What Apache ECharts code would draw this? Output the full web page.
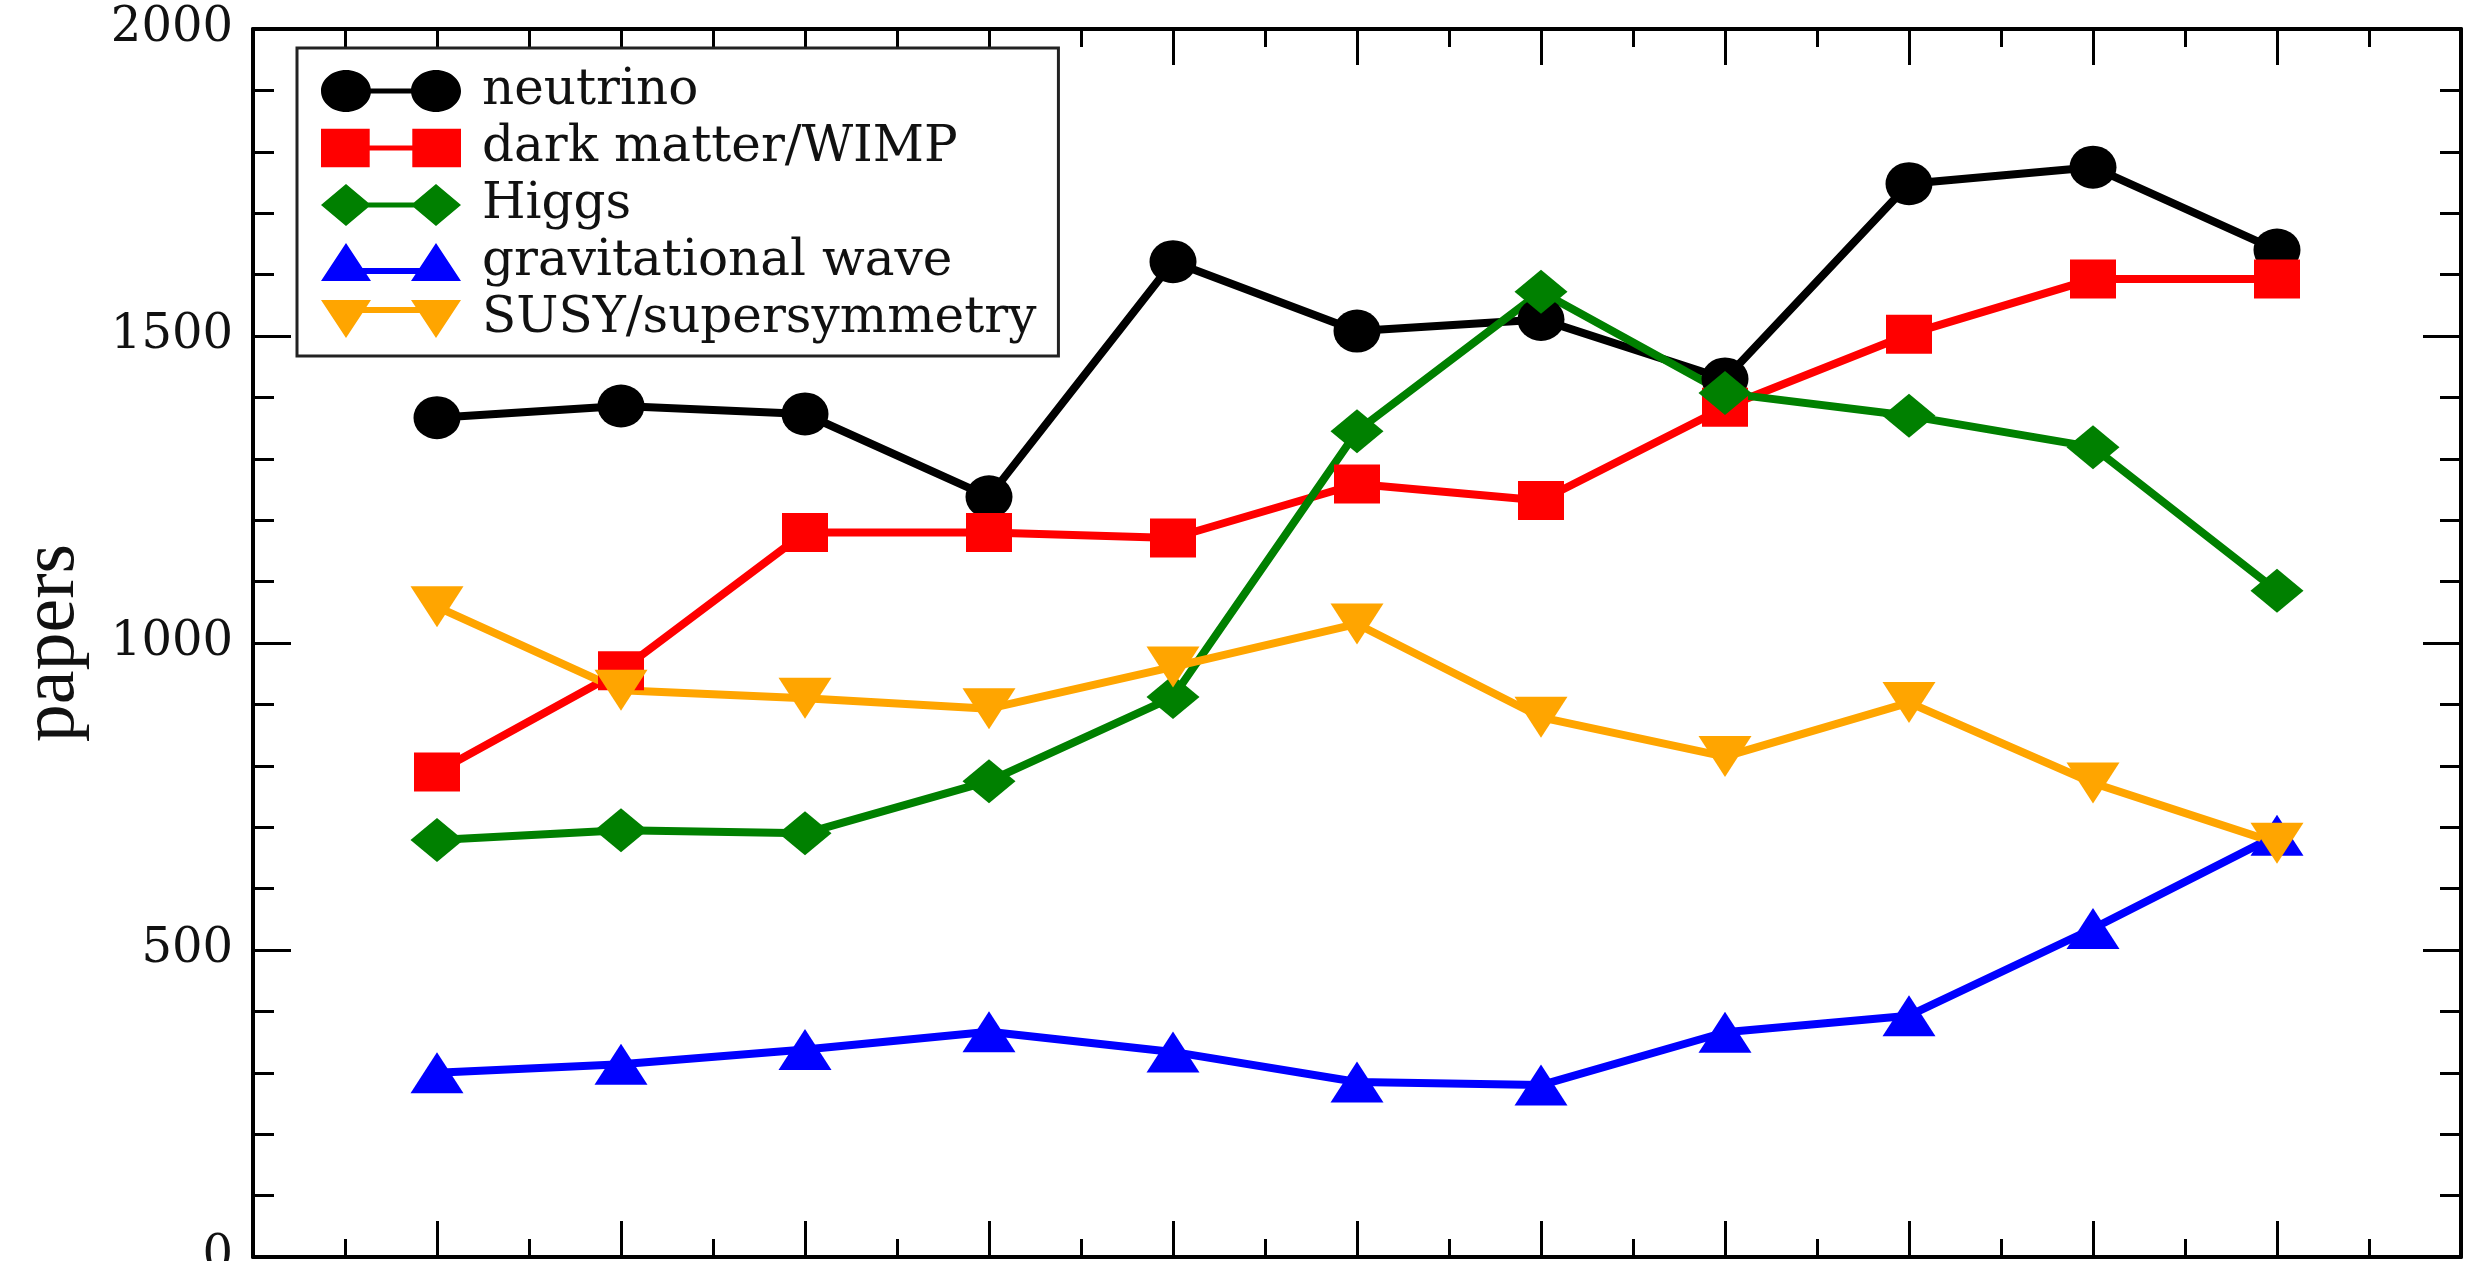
<!DOCTYPE html>
<html>
<head>
<meta charset="utf-8">
<script src="https://cdn.jsdelivr.net/npm/echarts@6/dist/echarts.min.js"></script>
<style>
html,body{margin:0;padding:0;background:#fff;}
#chart{width:2467px;height:1261px;}
</style>
</head>
<body>
<div id="chart"></div>
<script>
// ---- data (x positions 1..11) ----
const xPositions = [1, 2, 3, 4, 5, 6, 7, 8, 9, 10, 11];
const seriesNames = ['neutrino', 'dark matter/WIMP', 'Higgs', 'gravitational wave', 'SUSY/supersymmetry'];
const neutrino = [1367, 1386, 1373, 1238, 1621, 1508, 1527, 1430, 1748, 1775, 1640];
const darkMatter = [790, 955, 1180, 1180, 1171, 1259, 1232, 1384, 1503, 1593, 1593];
const higgs = [679, 695, 690, 775, 912, 1345, 1572, 1407, 1370, 1319, 1085];
const gravWave = [300, 314, 338, 367, 334, 285, 280, 366, 393, 535, 687];
const susy = [1059, 923, 910, 893, 961, 1031, 879, 815, 903, 772, 674];
const yTicks = [0, 500, 1000, 1500, 2000];

// ---- styling ----
const colors = ['#000000', '#ff0000', '#008000', '#0000ff', '#ffa500'];
const serif = 'DejaVu Serif';

function pair(arr) { return arr.map((v, i) => [xPositions[i], v]); }

// legend icon paths (shape - bar - shape)
function ellipse(cx, cy, rx, ry) {
  const k = 0.5523;
  return `M${cx-rx},${cy} C${cx-rx},${cy-k*ry} ${cx-k*rx},${cy-ry} ${cx},${cy-ry} ` +
         `C${cx+k*rx},${cy-ry} ${cx+rx},${cy-k*ry} ${cx+rx},${cy} ` +
         `C${cx+rx},${cy+k*ry} ${cx+k*rx},${cy+ry} ${cx},${cy+ry} ` +
         `C${cx-k*rx},${cy+ry} ${cx-rx},${cy+k*ry} ${cx-rx},${cy} Z `;
}
function bar(y, h) { return `M25,${y-h/2} L115,${y-h/2} L115,${y+h/2} L25,${y+h/2} Z `; }
const c1 = 25, c2 = 115;
const iconCircle = 'path://' + ellipse(c1, 21, 25, 21) + ellipse(c2, 21, 25, 21) + bar(21, 5);
const iconRect = 'path://' + `M1,2 L49,2 L49,40 L1,40 Z M91,2 L139,2 L139,40 L91,40 Z ` + bar(21, 5);
const iconDiamond = 'path://' + `M${c1-25},21 L${c1},0 L${c1+25},21 L${c1},42 Z M${c2-25},21 L${c2},0 L${c2+25},21 L${c2},42 Z ` + bar(21, 5);
const iconTriUp = 'path://' + `M${c1-25},40 L${c1},2 L${c1+25},40 Z M${c2-25},40 L${c2},2 L${c2+25},40 Z ` + bar(30, 6);
const iconTriDown = 'path://' + `M${c1-25},2 L${c1+25},2 L${c1},40 Z M${c2-25},2 L${c2+25},2 L${c2},40 Z ` + bar(12, 6);

const chart = echarts.init(document.getElementById('chart'), null, {renderer: 'canvas'});

const tickStyle = {color: '#000', width: 3};
function xAx(pos) {
  return {
    type: 'value', position: pos, min: 0, max: 12, interval: 1,
    axisLine: {show: true, onZero: false, lineStyle: {color: '#000', width: 4}},
    axisTick: {show: true, inside: true, length: 36, lineStyle: tickStyle},
    minorTick: {show: true, splitNumber: 2, length: 18, lineStyle: tickStyle},
    axisLabel: {show: false},
    splitLine: {show: false}
  };
}
function yAx(pos, labels) {
  return {
    type: 'value', position: pos, min: yTicks[0], max: yTicks[yTicks.length - 1], interval: 500,
    axisLine: {show: true, onZero: false, lineStyle: {color: '#000', width: 4}},
    axisTick: {show: true, inside: true, length: 38, lineStyle: tickStyle},
    minorTick: {show: true, splitNumber: 5, length: 21, lineStyle: tickStyle},
    axisLabel: {show: labels, margin: 20, fontFamily: serif, fontSize: 48, color: '#111',
                formatter: v => String(v)},
    splitLine: {show: false},
    name: labels ? 'papers' : '',
    nameLocation: 'middle', nameRotate: 90, nameGap: 162,
    nameTextStyle: {fontFamily: 'Liberation Serif', fontSize: 76, color: '#111'}
  };
}

const symbolDefs = [
  {symbol: 'circle', size: [47, 43], rotate: 0, icon: iconCircle, data: neutrino},
  {symbol: 'rect', size: [46, 39], rotate: 0, icon: iconRect, data: darkMatter},
  {symbol: 'diamond', size: [53, 44], rotate: 0, icon: iconDiamond, data: higgs},
  {symbol: 'triangle', size: [53, 41], rotate: 0, icon: iconTriUp, data: gravWave},
  {symbol: 'triangle', size: [53, 41], rotate: 180, icon: iconTriDown, data: susy}
];

const option = {
  animation: false,
  backgroundColor: '#fff',
  grid: {left: 253, right: 6, top: 29, bottom: 4, containLabel: false, outerBoundsMode: 'none'},
  xAxis: [xAx('bottom'), xAx('top')],
  yAxis: [yAx('left', true), yAx('right', false)],
  legend: {
    left: 297, top: 48, orient: 'vertical',
    backgroundColor: '#fff',
    borderColor: '#222', borderWidth: 3, borderRadius: 0,
    padding: [18, 22, 12, 24],
    itemWidth: 140, itemHeight: 42, itemGap: 7,
    symbolKeepAspect: true,
    textStyle: {fontFamily: serif, fontSize: 50, color: '#111', lineHeight: 46, padding: [0, 0, 0, 16]},
    data: seriesNames.map((n, i) => ({name: n, icon: symbolDefs[i].icon}))
  },
  series: seriesNames.map((n, i) => ({
    name: n, type: 'line',
    xAxisIndex: 0, yAxisIndex: 0,
    data: pair(symbolDefs[i].data),
    symbol: symbolDefs[i].symbol,
    symbolSize: symbolDefs[i].size,
    symbolRotate: symbolDefs[i].rotate,
    showAllSymbol: true,
    clip: false,
    lineStyle: {color: colors[i], width: 8},
    itemStyle: {color: colors[i], borderWidth: 0},
    emphasis: {disabled: true}
  }))
};
chart.setOption(option);
</script>
</body>
</html>
